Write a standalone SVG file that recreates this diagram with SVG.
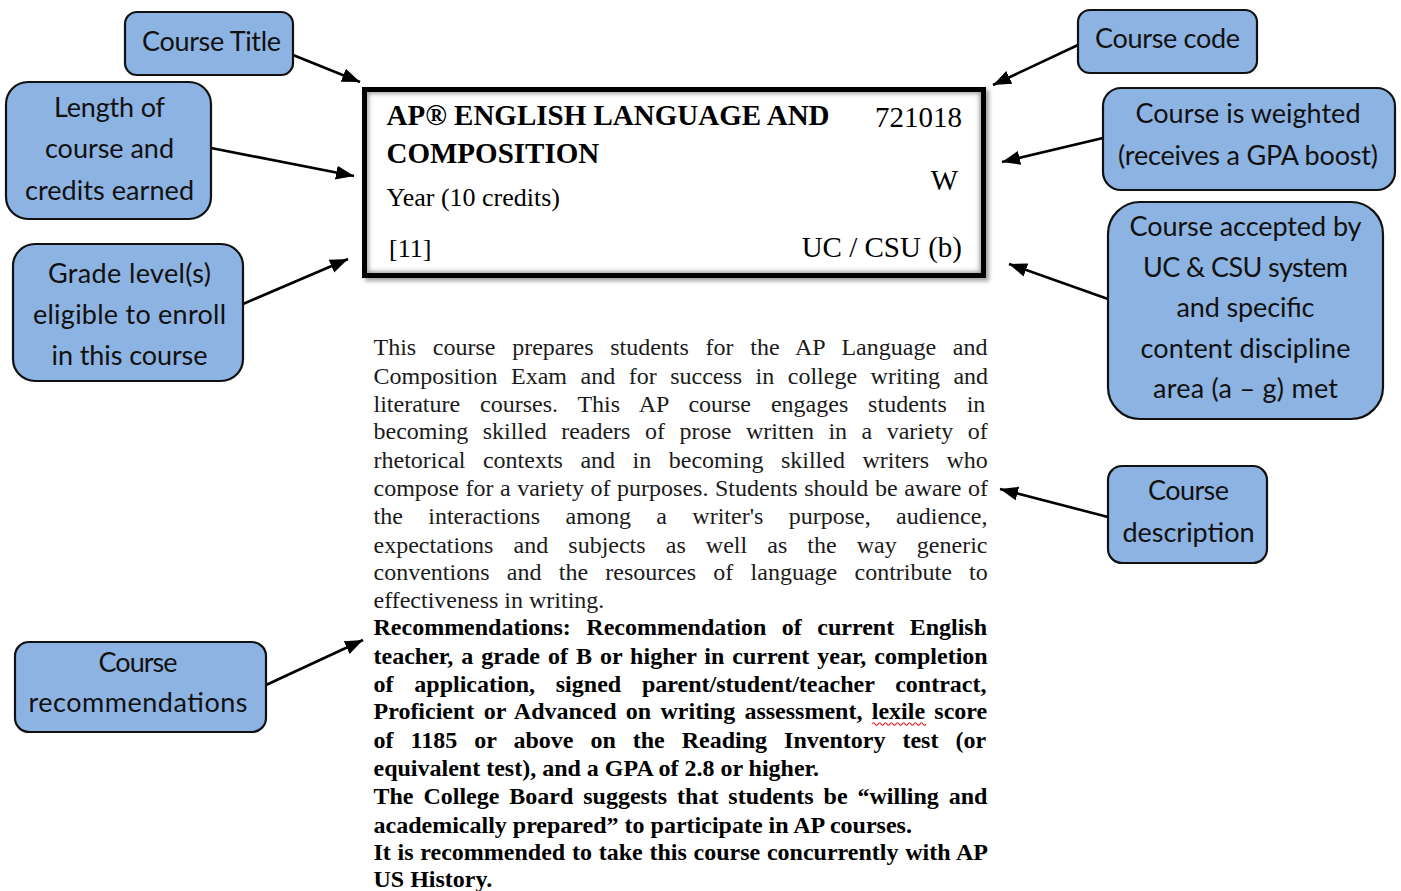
<svg xmlns="http://www.w3.org/2000/svg" width="1401" height="891" viewBox="0 0 1401 891">
<defs>
<style>
.box{fill:#8db3e2;stroke:#111;stroke-width:2.2}
.lbl{font-family:Lato,"Open Sans",sans-serif;font-size:27px;fill:#111;text-anchor:middle}
.conn{stroke:#000;stroke-width:2.6;fill:none;marker-end:url(#ah)}
.tb{font-family:"Liberation Serif","Times New Roman",serif;font-weight:bold;font-size:29px;fill:#000}
.tr{font-family:"Liberation Serif","Times New Roman",serif;font-size:29px;fill:#000}
.body{font-family:"Liberation Serif","Times New Roman",serif;font-size:24px;fill:#1a1a1a}
.bold{font-family:"Liberation Serif","Times New Roman",serif;font-size:24px;font-weight:bold;fill:#000}
</style>
<marker id="ah" markerUnits="userSpaceOnUse" markerWidth="20" markerHeight="16" refX="18" refY="7" orient="auto">
<path d="M0,0 L18,7 L0,14 z" fill="#000"/>
</marker>
<filter id="sh" x="-5%" y="-10%" width="110%" height="120%">
<feDropShadow dx="3" dy="3" stdDeviation="2" flood-color="#777" flood-opacity="0.7"/>
</filter>
<filter id="blur"><feGaussianBlur stdDeviation="2"/></filter>
<clipPath id="inner"><rect x="367" y="92" width="614" height="181"/></clipPath>
</defs>
<rect width="1401" height="891" fill="#fff"/>

<g id="course-card">
<rect x="364.5" y="89.5" width="619" height="186" fill="#fff" stroke="#000" stroke-width="5" filter="url(#sh)"/>
<g clip-path="url(#inner)"><rect x="366" y="91" width="616" height="183" fill="none" stroke="#999" stroke-width="5" filter="url(#blur)"/></g>
<rect x="364.5" y="89.5" width="619" height="186" fill="none" stroke="#000" stroke-width="5"/>
<text class="tb" x="386.5" y="125">AP® ENGLISH LANGUAGE AND</text>
<text class="tb" x="386.5" y="163">COMPOSITION</text>
<text class="tr" x="962" y="127" text-anchor="end">721018</text>
<text class="tr" x="958" y="190" text-anchor="end">W</text>
<text class="tr" x="386.5" y="206" style="font-size:26px">Year (10 credits)</text>
<text class="tr" x="389" y="257" style="font-size:26px">[11]</text>
<text class="tr" x="962" y="257" text-anchor="end">UC / CSU (b)</text>
</g>

<g id="course-text">
<text class="body" x="373.5" y="355" word-spacing="10.7">This course prepares students for the AP Language and</text>
<text class="body" x="373.5" y="384" word-spacing="7.5">Composition Exam and for success in college writing and</text>
<text class="body" x="373.5" y="412" word-spacing="13.9">literature courses. This AP course engages students in</text>
<text class="body" x="373.5" y="439" word-spacing="8.5">becoming skilled readers of prose written in a variety of</text>
<text class="body" x="373.5" y="468" word-spacing="11.5">rhetorical contexts and in becoming skilled writers who</text>
<text class="body" x="373.5" y="496" word-spacing="0.6">compose for a variety of purposes. Students should be aware of</text>
<text class="body" x="373.5" y="524" word-spacing="19.4">the interactions among a writer's purpose, audience,</text>
<text class="body" x="373.5" y="553" word-spacing="14.1">expectations and subjects as well as the way generic</text>
<text class="body" x="373.5" y="580" word-spacing="11.3">conventions and the resources of language contribute to</text>
<text class="body" x="373.5" y="608">effectiveness in writing.</text>
<text class="bold" x="373.5" y="635" word-spacing="9.5">Recommendations: Recommendation of current English</text>
<text class="bold" x="373.5" y="664" word-spacing="2">teacher, a grade of B or higher in current year, completion</text>
<text class="bold" x="373.5" y="692" word-spacing="14.8">of application, signed parent/student/teacher contract,</text>
<text class="bold" x="373.5" y="719" word-spacing="3.3">Proficient or Advanced on writing assessment, lexile score</text>
<text class="bold" x="373.5" y="748" word-spacing="11">of 1185 or above on the Reading Inventory test (or</text>
<text class="bold" x="373.5" y="776">equivalent test), and a GPA of 2.8 or higher.</text>
<text class="bold" x="373.5" y="804" word-spacing="3.9">The College Board suggests that students be “willing and</text>
<text class="bold" x="373.5" y="833">academically prepared” to participate in AP courses.</text>
<text class="bold" x="373.5" y="860" word-spacing="0.75">It is recommended to take this course concurrently with AP</text>
<text class="bold" x="373.5" y="887">US History.</text>
<path d="M872,724 q1.5,-2.5 3,0 t3,0 t3,0 t3,0 t3,0 t3,0 t3,0 t3,0 t3,0 t3,0 t3,0 t3,0 t3,0 t3,0 t3,0 t3,0 t3,0 t3,0" fill="none" stroke="#e02020" stroke-width="1.2"/>
</g>

<g id="connectors">
<line class="conn" x1="293" y1="55" x2="360" y2="82"/>
<line class="conn" x1="211" y1="148" x2="354" y2="176"/>
<line class="conn" x1="243" y1="304" x2="348" y2="259"/>
<line class="conn" x1="266" y1="685" x2="363" y2="640"/>
<line class="conn" x1="1078" y1="45" x2="993" y2="85"/>
<line class="conn" x1="1103" y1="138" x2="1002" y2="162"/>
<line class="conn" x1="1108" y1="299" x2="1009" y2="264"/>
<line class="conn" x1="1108" y1="517" x2="1000" y2="489"/>
</g>

<g id="course-title">
<rect class="box" x="125" y="12" width="168" height="63" rx="12"/>
<text class="lbl" x="211.5" y="51" textLength="139">Course Title</text>
</g>
<g id="length-credits">
<rect class="box" x="6" y="82" width="205" height="137" rx="22"/>
<text class="lbl" x="109.5" y="117" textLength="111">Length of</text>
<text class="lbl" x="109.5" y="158" textLength="129">course and</text>
<text class="lbl" x="109.5" y="200" textLength="169">credits earned</text>
</g>
<g id="grade-levels">
<rect class="box" x="13" y="244" width="230" height="137" rx="22"/>
<text class="lbl" x="129.5" y="283" textLength="163">Grade level(s)</text>
<text class="lbl" x="129.5" y="324" textLength="193">eligible to enroll</text>
<text class="lbl" x="129.5" y="365" textLength="156">in this course</text>
</g>
<g id="course-recommendations">
<rect class="box" x="15" y="642" width="251" height="90" rx="14"/>
<text class="lbl" x="138" y="672" textLength="79">Course</text>
<text class="lbl" x="138" y="712" textLength="219">recommendations</text>
</g>
<g id="course-code">
<rect class="box" x="1078" y="10" width="179" height="63" rx="12"/>
<text class="lbl" x="1167.5" y="48" textLength="145">Course code</text>
</g>
<g id="weighted">
<rect class="box" x="1103" y="88" width="292" height="102" rx="18"/>
<text class="lbl" x="1248" y="123" textLength="225">Course is weighted</text>
<text class="lbl" x="1248" y="165" textLength="260">(receives a GPA boost)</text>
</g>
<g id="uc-csu">
<rect class="box" x="1108" y="202" width="275" height="217" rx="32"/>
<text class="lbl" x="1245.5" y="236" textLength="232">Course accepted by</text>
<text class="lbl" x="1245.5" y="277" textLength="205">UC &amp; CSU system</text>
<text class="lbl" x="1245.5" y="317" textLength="138">and specific</text>
<text class="lbl" x="1245.5" y="358" textLength="210">content discipline</text>
<text class="lbl" x="1245.5" y="398" textLength="185">area (a – g) met</text>
</g>
<g id="course-description">
<rect class="box" x="1108" y="466" width="159" height="97" rx="14"/>
<text class="lbl" x="1188.5" y="500" textLength="81">Course</text>
<text class="lbl" x="1188.5" y="542" textLength="132">description</text>
</g>
</svg>
